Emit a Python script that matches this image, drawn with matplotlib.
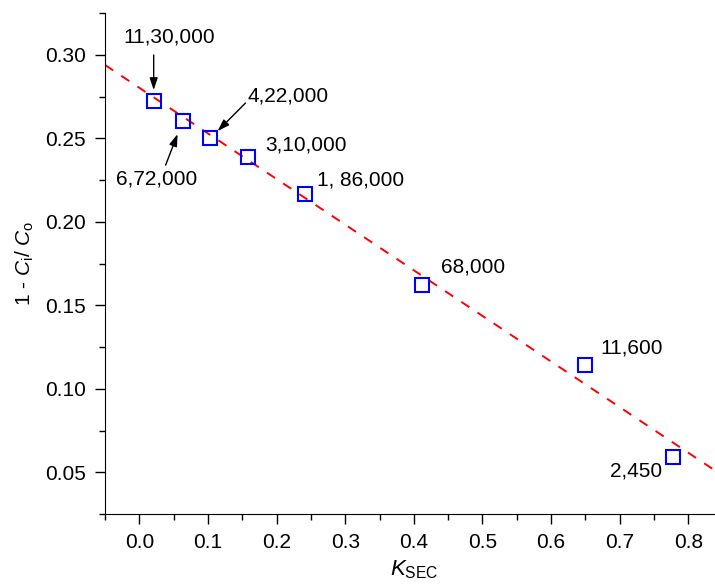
import matplotlib
matplotlib.use('Agg')
import matplotlib.pyplot as plt
from matplotlib.ticker import MultipleLocator

plt.rcParams['font.family'] = ['Liberation Sans', 'DejaVu Sans']
plt.rcParams['mathtext.fontset'] = 'custom'
plt.rcParams['mathtext.rm'] = 'Liberation Sans'
plt.rcParams['mathtext.it'] = 'Liberation Sans:italic'

# measured points
k_sec = [0.021, 0.063, 0.103, 0.159, 0.241, 0.412, 0.650, 0.778]
ratio = [0.2726, 0.2606, 0.2500, 0.2386, 0.2166, 0.1624, 0.1144, 0.0590]

# linear fit (end points)
fit_x = [-0.05, 0.85]
fit_y = [0.294, 0.048]

# molecular weight labels
labels = ['11,30,000', '6,72,000', '4,22,000', '3,10,000', '1, 86,000', '68,000', '11,600', '2,450']
label_x = [0.044, 0.025, 0.158, 0.184, 0.2596, 0.44, 0.6715, 0.762]
label_y = [0.3108, 0.2256, 0.2754, 0.246, 0.225, 0.1728, 0.1242, 0.051]
label_ha = ['center', 'center', 'left', 'left', 'left', 'left', 'left', 'right']

# arrows: (tail, head)
arrows = [((0.0209, 0.300), (0.0209, 0.279)),
          ((0.0383, 0.234), (0.0557, 0.2526)),
          ((0.1546, 0.2712), (0.114, 0.2544))]

fig = plt.figure(figsize=(7.15, 5.87), dpi=100)
ax = fig.add_axes([0.1469, 0.1244, 0.8638, 0.853])

ax.plot(fit_x, fit_y, ls=(0, (5, 5)), color='#ff0000', lw=1.4, zorder=2)
ax.plot(k_sec, ratio, ls='none', marker='s', ms=9.5, mfc='none', mec='#0000ff', mew=1.5, zorder=3)

for t, x, y, ha in zip(labels, label_x, label_y, label_ha):
    ax.text(x, y, t, ha=ha, va='center', fontsize=15)

for tail, head in arrows:
    ax.annotate('', xy=head, xytext=tail,
                arrowprops=dict(arrowstyle='-|>,head_length=0.6,head_width=0.2', color='black', lw=1,
                                mutation_scale=12, shrinkA=0, shrinkB=0))

ax.set_xlim(-0.05, 0.85)
ax.set_ylim(0.025, 0.325)
ax.xaxis.set_minor_locator(MultipleLocator(0.05))
ax.yaxis.set_minor_locator(MultipleLocator(0.025))
ax.set_xticks([0.0, 0.1, 0.2, 0.3, 0.4, 0.5, 0.6, 0.7, 0.8])
ax.set_xticklabels(['0.0', '0.1', '0.2', '0.3', '0.4', '0.5', '0.6', '0.7', '0.8'])
ax.set_yticks([0.05, 0.10, 0.15, 0.20, 0.25, 0.30])
ax.set_yticklabels(['0.05', '0.10', '0.15', '0.20', '0.25', '0.30'])

ax.spines['top'].set_visible(False)
ax.spines['right'].set_visible(False)
ax.tick_params(which='major', direction='out', length=7, width=1, labelsize=15, pad=7)
ax.tick_params(which='minor', direction='out', length=4, width=1)

ax.set_xlabel(r'$K_{\mathrm{SEC}}$', fontsize=16, labelpad=4)
ax.set_ylabel(r'1 - $C_{\mathrm{i}}$/ $C_{\mathrm{o}}$', fontsize=15, labelpad=6)

fig.savefig('out.png', dpi=100)
